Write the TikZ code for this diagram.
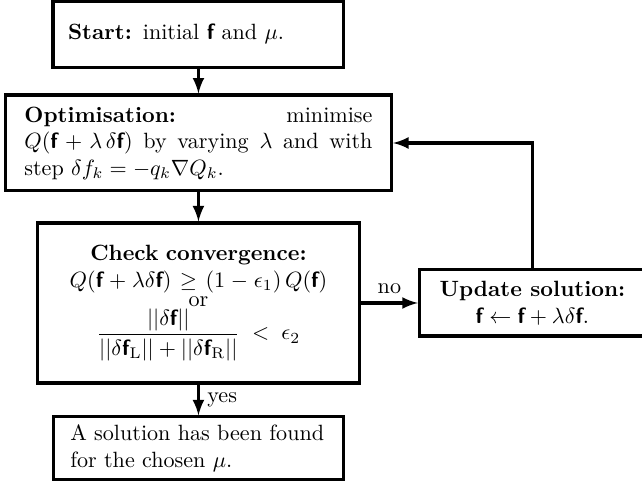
\documentclass[tikz,border=0pt]{standalone}
\usetikzlibrary{positioning, arrows}
\newcommand{\vf}{\mbox{\sffamily\bfseries f}} % bold sans-serif f
\tikzset{
>=latex, % filled arrow heads
block/.style={draw, rectangle, inner ysep=3pt}, % every box of the chart
}

\begin{document}
\begin{tikzpicture}[line width=1.4pt]
        \useasboundingbox (0,0) rectangle (290.5pt,-219pt);
        \node[block, align=left, text width=118pt, inner xsep=6.8pt, minimum height=29.9pt] (start) at (89.8pt,-15.4pt)
            {\textbf{Start:} initial $\vf$ and $\mu$.};
        \node[block, below of=start, node distance=49.3pt, align=justify, text width=157.5pt, inner xsep=8.6pt, minimum height=43.4pt] (optim)
            {\textbf{Optimisation:} minimise\linebreak $Q(\vf + \lambda\,\delta\vf)$ by varying $\lambda$ and with\linebreak step $\delta f_k = -q_k\nabla Q_k$.};
        \node[block, below of=optim, node distance=72.4pt, align=center, text width=131pt, inner xsep=7.35pt, minimum height=72.4pt] (check)
            {\textbf{Check convergence:}\\ $Q(\vf + \lambda\delta\vf) \geq (1-\epsilon_1)\,Q(\vf)$\\[-3.5pt] or\\
             $\displaystyle\frac{||\delta\vf||}{||\delta\vf_{\mathrm{L}}|| + ||\delta\vf_{\mathrm{R}}||} < \epsilon_2$};
        \node[block, right of=check, node distance=151.1pt, align=center, minimum width=102.3pt, minimum height=29.9pt] (update)
            {\textbf{Update solution:}\\ $\vf \leftarrow \vf + \lambda\delta\vf$.};
        \node[block, below of=check, node distance=65.8pt, align=left, text width=116pt, inner xsep=7.6pt, minimum height=28.5pt] (found)
            {A solution has been found\\ for the chosen $\mu$.};

        \draw[->] (start) -- (optim);
        \draw[->] (optim) -- (check);
        \draw[->] (check) -- node[right] {yes} (found);
        \draw[->] (check) -- node[above] {no} (update);
        \draw[->] (update.north) |- (optim.east);
\end{tikzpicture}
\end{document}
